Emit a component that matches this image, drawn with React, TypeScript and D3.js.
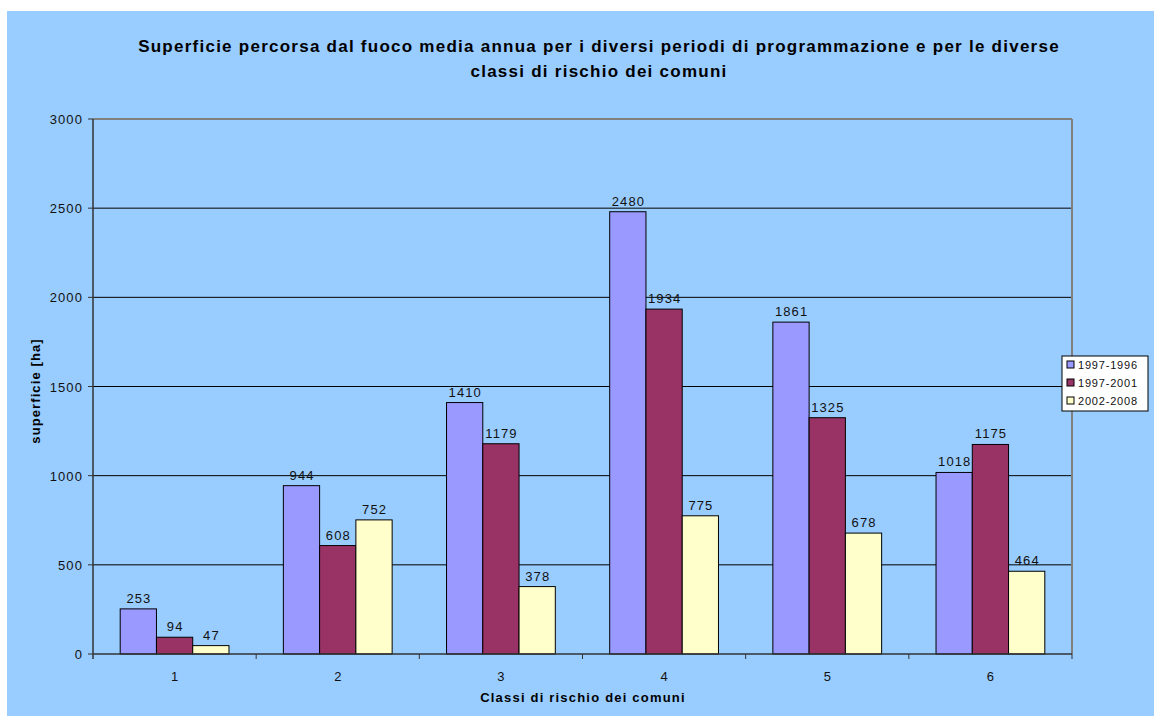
import React from "react";
import * as d3 from "d3";

const categories = ["1", "2", "3", "4", "5", "6"];
const seriesNames = ["1997-1996", "1997-2001", "2002-2008"];
const s1 = [253, 944, 1410, 2480, 1861, 1018];
const s2 = [94, 608, 1179, 1934, 1325, 1175];
const s3 = [47, 752, 378, 775, 678, 464];
const colors = ["#9999FF", "#993366", "#FFFFCC"];
const yTicks = [0, 500, 1000, 1500, 2000, 2500, 3000];
const title1 = "Superficie percorsa dal fuoco media annua per i diversi periodi di programmazione e per le diverse";
const title2 = "classi di rischio dei comuni";

export default function App() {
  const W = 1154, H = 716;
  const L = 93, R = 1072, T = 119, B = 654;
  const series = [s1, s2, s3];
  const x0 = d3.scaleBand().domain(categories).range([L, R]).padding(0);
  const y = d3.scaleLinear().domain([0, 3000]).range([B, T]);
  const bw = x0.bandwidth() / 4.5;
  const font = "Arial, 'Liberation Sans', sans-serif";
  return (
    <svg width={W} height={H} style={{ position: "absolute", left: 0, top: 0 }} fontFamily={font}>
      <rect x={0} y={0} width={W} height={H} fill="#fff" />
      <rect x={7} y={11} width={W - 7} height={H - 11} fill="#99CCFF" />
      <text x={599} y={52} textAnchor="middle" fontSize={17} fontWeight="bold" letterSpacing={1.25} fill="#000">{title1}</text>
      <text x={599} y={77} textAnchor="middle" fontSize={17} fontWeight="bold" letterSpacing={1.25} fill="#000">{title2}</text>
      {yTicks.filter(t => t > 0 && t < 3000).map(t => (
        <line key={t} x1={L} x2={R} y1={y(t)} y2={y(t)} stroke="#000" strokeWidth={1} />
      ))}
      <line x1={L} x2={R} y1={T} y2={T} stroke="#808080" strokeWidth={2} />
      <line x1={R} x2={R} y1={T} y2={B} stroke="#808080" strokeWidth={2} />
      {categories.map((c, i) =>
        series.map((s, j) => {
          const bx = (x0(c) as number) + bw * 0.75 + j * bw;
          return (
            <g key={c + j}>
              <rect x={bx} y={y(s[i])} width={bw} height={B - y(s[i])} fill={colors[j]} stroke="#000" strokeWidth={1} />
              <text x={bx + bw / 2 + 0.6} y={y(s[i]) - 6} textAnchor="middle" fontSize={13} letterSpacing={1.1} fill="#111">{s[i]}</text>
            </g>
          );
        })
      )}
      <line x1={L} x2={L} y1={T} y2={B + 5} stroke="#333" strokeWidth={1.5} />
      <line x1={L} x2={R} y1={B} y2={B} stroke="#333" strokeWidth={1.5} />
      {yTicks.map(t => (
        <g key={t}>
          <line x1={L - 5} x2={L} y1={y(t)} y2={y(t)} stroke="#333" strokeWidth={1} />
          <text x={L - 10} y={y(t) + 5} textAnchor="end" fontSize={13} letterSpacing={1.1} fill="#111">{t}</text>
        </g>
      ))}
      {categories.map((c, i) => (
        <g key={c}>
          <line x1={(x0(c) as number) + x0.bandwidth()} x2={(x0(c) as number) + x0.bandwidth()} y1={B} y2={B + 5} stroke="#333" strokeWidth={1} />
          <text x={(x0(c) as number) + x0.bandwidth() / 2} y={681} textAnchor="middle" fontSize={13} fill="#111">{c}</text>
        </g>
      ))}
      <text x={583} y={702} textAnchor="middle" fontSize={13} fontWeight="bold" letterSpacing={1.2} fill="#000">Classi di rischio dei comuni</text>
      <text transform={`translate(40,391) rotate(-90)`} textAnchor="middle" fontSize={13} fontWeight="bold" letterSpacing={1.1} fill="#000">superficie [ha]</text>
      <rect x={1062} y={356} width={86} height={55} fill="#fff" stroke="#000" strokeWidth={1} />
      {seriesNames.map((n, j) => (
        <g key={n}>
          <rect x={1067} y={361 + j * 18} width={7} height={7} fill={colors[j]} stroke="#000" strokeWidth={1} />
          <text x={1078} y={369 + j * 18} fontSize={11} letterSpacing={0.8} fill="#111">{n}</text>
        </g>
      ))}
    </svg>
  );
}
